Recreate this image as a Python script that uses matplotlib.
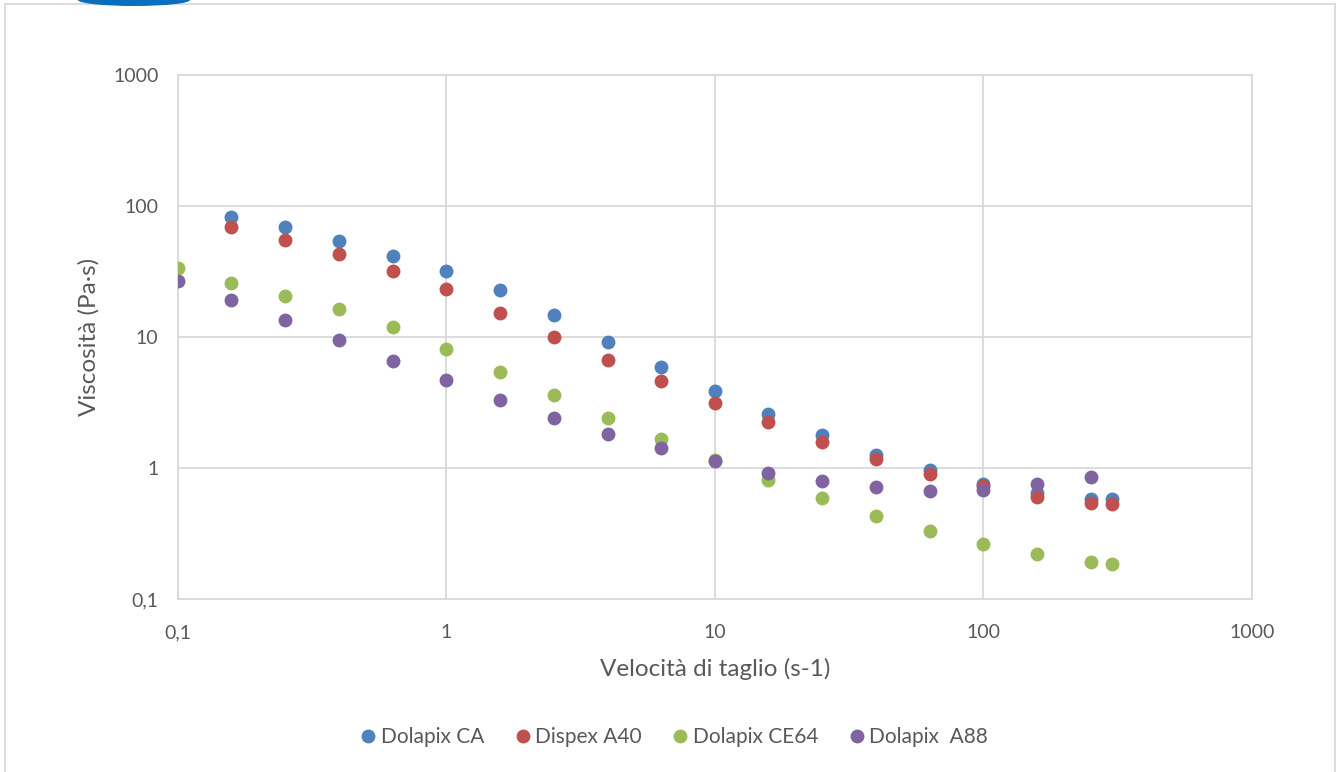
import numpy as np
import matplotlib.pyplot as plt
from matplotlib.patches import Rectangle, Ellipse
from matplotlib.ticker import FixedLocator, NullLocator

plt.rcParams['font.family'] = ['Lato', 'DejaVu Sans']

# velocità di taglio (s-1)
shear = [0.1, 0.158, 0.251, 0.398, 0.631, 1, 1.58, 2.51, 3.98, 6.31,
         10, 15.8, 25.1, 39.8, 63.1, 100, 158, 251, 300]

# viscosità (Pa·s)
dolapix_ca = [None, 82.4, 69.1, 54.1, 41.5, 31.9, 22.9, 14.7, 9.16, 5.90,
              3.87, 2.59, 1.79, 1.26, 0.966, 0.755, 0.645, 0.58, 0.58]
dispex_a40 = [None, 69.1, 55.0, 43.0, 31.9, 23.2, 15.2, 10.0, 6.67, 4.61,
              3.13, 2.24, 1.58, 1.17, 0.90, 0.73, 0.60, 0.54, 0.53]
dolapix_ce64 = [33.6, 25.8, 20.6, 16.4, 11.9, 8.1, 5.41, 3.61, 2.41, 1.66,
                1.15, 0.81, 0.59, 0.43, 0.33, 0.264, 0.219, 0.19, 0.184]
dolapix_a88 = [26.7, 19.1, 13.5, 9.5, 6.56, 4.70, 3.31, 2.41, 1.82, 1.41,
               1.14, 0.92, 0.79, 0.71, 0.67, 0.68, 0.75, 0.86, None]

series = [('Dolapix CA', dolapix_ca, '#4f81bd'),
          ('Dispex A40', dispex_a40, '#c0504d'),
          ('Dolapix CE64', dolapix_ce64, '#9bbb59'),
          ('Dolapix  A88', dolapix_a88, '#8064a2')]

ticks = [0.1, 1, 10, 100, 1000]
tick_labels = ['0,1', '1', '10', '100', '1000']

fig = plt.figure(figsize=(13.41, 7.72), dpi=100)
ax = fig.add_axes([0.1327, 0.2241, 0.8009, 0.6787])

for name, vals, col in series:
    xs = [x for x, v in zip(shear, vals) if v is not None]
    ys = [v for v in vals if v is not None]
    ax.plot(xs, ys, 'o', color=col, markersize=10, markeredgewidth=0,
            label=name, zorder=3)

ax.set_xscale('log')
ax.set_yscale('log')
ax.set_xlim(0.1, 1000)
ax.set_ylim(0.1, 1000)
ax.xaxis.set_major_locator(FixedLocator(ticks))
ax.yaxis.set_major_locator(FixedLocator(ticks))
ax.xaxis.set_minor_locator(NullLocator())
ax.yaxis.set_minor_locator(NullLocator())
ax.set_xticklabels(tick_labels)
ax.set_yticklabels(tick_labels)
ax.tick_params(length=0, labelsize=14, labelcolor='#595959')
ax.tick_params(axis='x', pad=18)
ax.tick_params(axis='y', pad=14)
ax.grid(True, color='#d9d9d9', linewidth=1.3)
ax.set_axisbelow(True)
for s in ax.spines.values():
    s.set_color('#d9d9d9')
    s.set_linewidth(1.3)

ax.set_xlabel('Velocità di taglio (s-1)', fontsize=17.5, color='#595959', labelpad=12)
ax.set_ylabel('Viscosità (Pa·s)', fontsize=17.5, color='#595959', labelpad=10)

fig.legend(loc='center', bbox_to_anchor=(0.503, 0.045), ncol=4, frameon=False,
           fontsize=15, labelcolor='#595959', handlelength=0.7,
           handletextpad=0.25, columnspacing=1.5)

# bordo dell'area del grafico
fig.patches.append(Rectangle((5 / 1341, -0.05), 1330 / 1341, 1 - 4 / 772 + 0.05,
                             transform=fig.transFigure, fill=False,
                             edgecolor='#d9d9d9', linewidth=1.3))
fig.patches.append(Ellipse((134 / 1341, 1.0), 112 / 1341, 12 / 772,
                           transform=fig.transFigure, facecolor='#0b6fbf',
                           edgecolor='none'))

fig.savefig('out.png', dpi=100, facecolor='white')
